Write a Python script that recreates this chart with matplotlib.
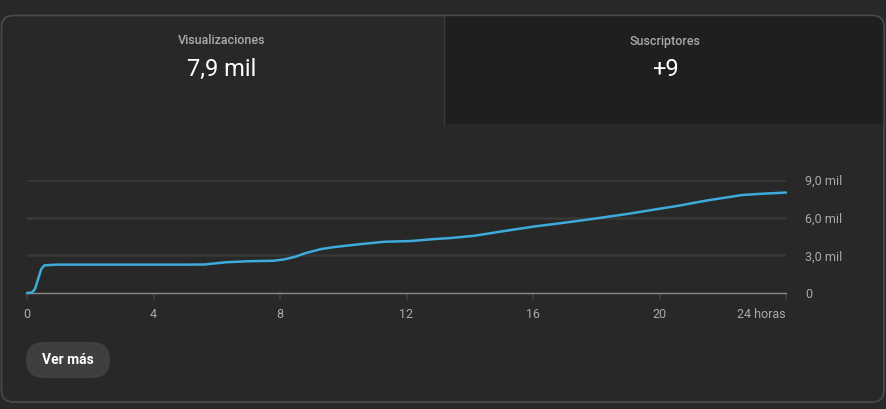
import matplotlib
matplotlib.use("Agg")
import matplotlib.pyplot as plt
from matplotlib.patches import FancyBboxPatch, Rectangle
from matplotlib.lines import Line2D

plt.rcParams['font.family'] = ['Roboto', 'DejaVu Sans']

# ---- data ----
hours = [0, 0.15, 0.25, 0.35, 0.45, 0.55, 0.8, 1.0, 2, 3, 4, 5, 5.6, 6.3, 7,
         7.8, 8.14, 8.5, 8.77, 9.3, 9.72, 10.57, 11.3, 12.15, 12.9, 13.4,
         14.15, 15, 16.05, 17, 17.85, 19, 19.8, 20.6, 21.5, 22.6, 23.2, 24]
views = [0, 30, 300, 1100, 1900, 2200, 2240, 2260, 2260, 2260, 2260, 2260,
         2270, 2450, 2530, 2570, 2680, 2900, 3150, 3500, 3660, 3900, 4080,
         4140, 4300, 4380, 4560, 4900, 5300, 5600, 5890, 6300, 6630, 6950,
         7370, 7800, 7900, 8000]
x_ticks = [0, 4, 8, 12, 16, 20, 24]
x_labels = ['0', '4', '8', '12', '16', '20', '24 horas']
y_ticks = [0, 3000, 6000, 9000]
y_labels = ['0', '3,0 mil', '6,0 mil', '9,0 mil']
metric_titles = ['Visualizaciones', 'Suscriptores']
metric_values = ['7,9 mil', '+9']
button_text = 'Ver más'

W, H = 886, 409
BG = '#282828'
fig = plt.figure(figsize=(W / 100, H / 100), dpi=100, facecolor=BG)

# ---- background / card layer in pixel coordinates ----
bg = fig.add_axes([0, 0, 1, 1])
bg.set_xlim(0, W)
bg.set_ylim(H, 0)
bg.axis('off')

card = FancyBboxPatch((1.5, 15.5), 882.5, 386.5,
                      boxstyle='round,pad=0,rounding_size=12',
                      facecolor=BG, edgecolor='#4a4a4a', linewidth=1.0, zorder=1)
bg.add_patch(card)
panel = Rectangle((444.5, 15.5), 440, 108.5, facecolor='#1f1f1f',
                  edgecolor='none', zorder=2)
bg.add_patch(panel)
panel.set_clip_path(card)
bg.add_line(Line2D([444.5, 444.5], [15.5, 124], color='#3c3c3c', lw=1.0, zorder=3))
border = FancyBboxPatch((1.5, 15.5), 882.5, 386.5,
                        boxstyle='round,pad=0,rounding_size=12',
                        facecolor='none', edgecolor='#4a4a4a', linewidth=1.0, zorder=4)
bg.add_patch(border)

centers = [222, 665]
for cx, t, v in zip(centers, metric_titles, metric_values):
    bg.text(cx, 41, t, color='#aaaaaa', fontsize=9, fontweight='medium',
            ha='center', va='center', zorder=5)
    bg.text(cx, 69, v, color='#ffffff', fontsize=17,
            ha='center', va='center', zorder=5)

btn = FancyBboxPatch((26, 342), 84, 36, boxstyle='round,pad=0,rounding_size=18',
                     facecolor='#3f3f3f', edgecolor='none', zorder=5)
bg.add_patch(btn)
bg.text(68, 360, button_text, color='#ffffff', fontsize=10, fontweight='bold',
        ha='center', va='center', zorder=6)

# ---- chart ----
x0, x1 = 27, 786
y0, y9 = 293, 180
ax = fig.add_axes([x0 / W, (H - y0) / H, (x1 - x0) / W, (y0 - y9) / H])
ax.set_facecolor('none')
ax.plot(hours, views, color='#3eabdc', lw=1.8, solid_capstyle='round',
        clip_on=False, zorder=4)
ax.set_xlim(0, 24)
ax.set_ylim(0, 9000)
for s in ['top', 'left', 'right']:
    ax.spines[s].set_visible(False)
ax.spines['bottom'].set_color('#8a8a8a')
ax.spines['bottom'].set_linewidth(1.0)
ax.spines['bottom'].set_zorder(3)

ax.set_xticks(x_ticks)
ax.set_xticklabels(x_labels)
ax.tick_params(axis='x', length=5, width=1.5, color='#3a3a3a', pad=6,
               labelcolor='#aaaaaa', labelsize=9)
ha_list = ['center'] * (len(x_ticks) - 1) + ['right']
for lbl, ha in zip(ax.get_xticklabels(), ha_list):
    lbl.set_ha(ha)

ax.yaxis.tick_right()
ax.set_yticks(y_ticks)
ax.set_yticklabels(y_labels)
ax.tick_params(axis='y', length=0, pad=14, labelcolor='#aaaaaa', labelsize=9)
for lbl in ax.get_yticklabels():
    lbl.set_ha('left')

for v in y_ticks[1:]:
    ax.axhline(v, color='#383838', lw=1.8, zorder=1)

fig.savefig('out.png', dpi=100, facecolor=BG)
